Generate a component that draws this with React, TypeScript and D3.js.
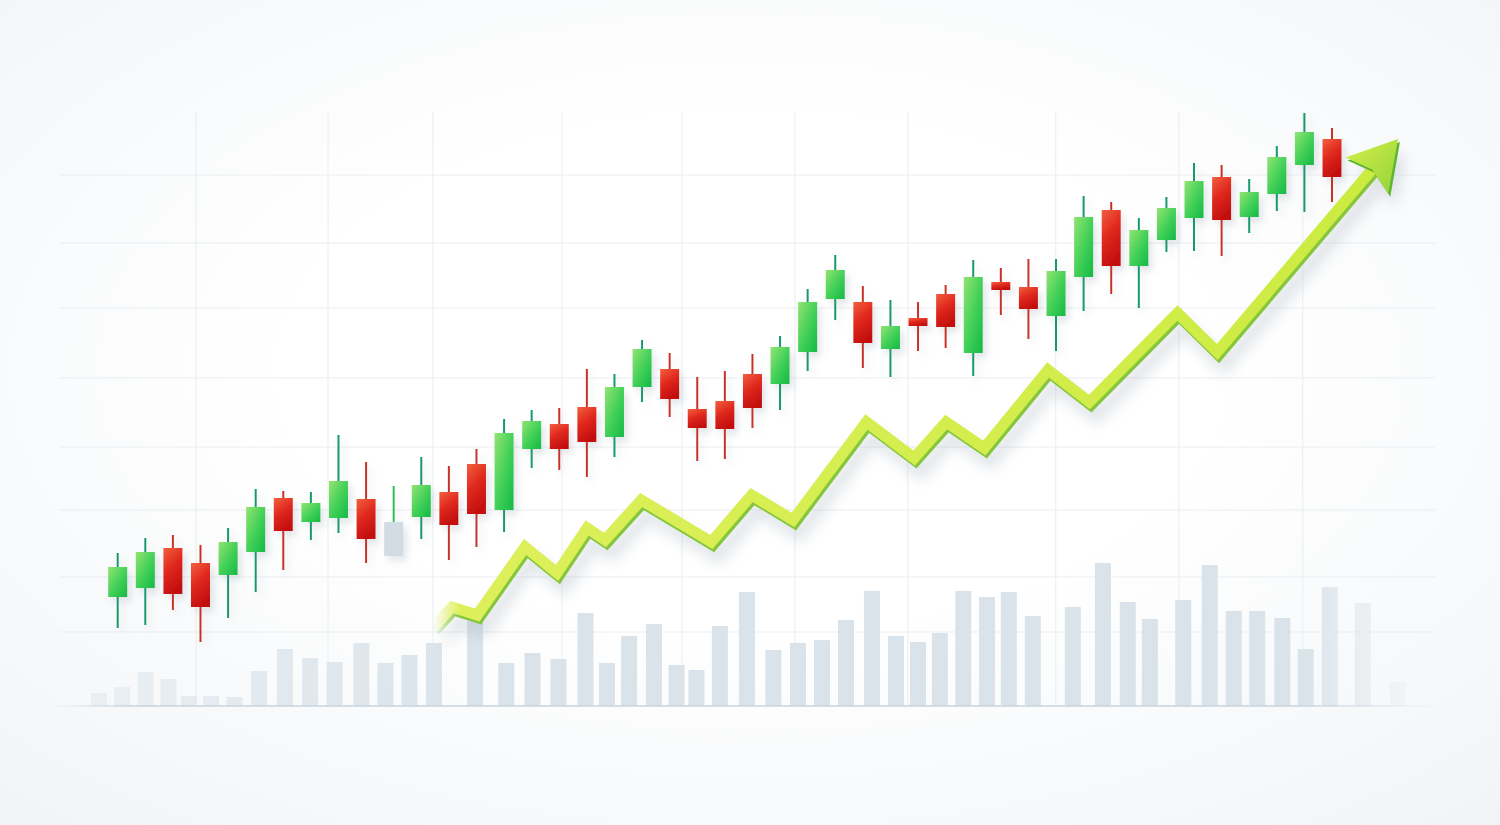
import React from "react";
import * as d3 from "d3";

const W = 1500;
const H = 825;

// Candles (price units), index 0..44
const OPEN = [103, 112, 152, 137, 125, 148, 202, 178, 182, 201, 178, 183, 208, 236, 190, 251, 276, 293, 263, 313, 331, 291, 299, 326, 316, 348, 401, 398, 351, 382, 406, 347, 418, 413, 384, 423, 490, 434, 460, 482, 523, 483, 506, 535, 561];
const CLOSE = [133, 148, 106, 93, 158, 193, 169, 197, 219, 161, 144, 215, 175, 186, 267, 279, 251, 258, 313, 351, 301, 272, 271, 292, 353, 398, 430, 357, 374, 374, 373, 423, 410, 391, 429, 483, 434, 470, 492, 519, 480, 508, 543, 568, 523];
const HIGH = [147, 162, 165, 155, 172, 211, 209, 208, 265, 238, 214, 243, 234, 251, 281, 290, 292, 331, 326, 360, 347, 323, 329, 346, 364, 411, 445, 414, 400, 398, 415, 440, 432, 441, 441, 504, 498, 482, 503, 537, 535, 521, 554, 587, 572];
const LOW = [72, 75, 90, 58, 82, 108, 130, 160, 167, 137, 144, 161, 140, 153, 168, 232, 230, 223, 243, 298, 283, 239, 241, 272, 290, 329, 380, 332, 323, 349, 352, 324, 385, 361, 349, 389, 406, 392, 448, 449, 444, 467, 489, 488, 498];
const GHOST = [10];

// Volume bars: session position and volume
const VOL_T = [-0.68, 0.16, 1.01, 1.84, 2.58, 3.38, 4.23, 5.12, 6.06, 6.97, 7.86, 8.83, 9.7, 10.57, 11.46, 12.95, 14.08, 15.03, 15.97, 16.95, 17.73, 18.53, 19.43, 20.25, 20.97, 21.82, 22.8, 23.76, 24.65, 25.52, 26.39, 27.33, 28.2, 29.0, 29.79, 30.64, 31.5, 32.29, 33.16, 34.61, 35.7, 36.6, 37.4, 38.61, 39.57, 40.44, 41.29, 42.2, 43.05, 43.92, 45.12, 46.39];
const VOL = [13, 19, 34, 27, 10, 10, 9, 35, 57, 48, 44, 63, 43, 51, 63, 90, 43, 53, 47, 93, 43, 70, 82, 41, 36, 80, 114, 56, 63, 66, 86, 115, 70, 64, 73, 115, 109, 114, 90, 99, 143, 104, 87, 106, 141, 95, 95, 88, 57, 119, 103, 24];

// Trend arrow
const TREND_T = [11.42, 12.11, 13.03, 14.76, 15.92, 17.01, 17.66, 18.97, 21.51, 22.97, 24.47, 27.13, 28.86, 30.02, 31.4, 33.71, 35.21, 38.4, 39.84, 46.39];
const TREND_P = [72, 93, 85, 153, 127, 172, 160, 200, 158, 205, 180, 278, 242, 278, 252, 330, 298, 387, 348, 561];

// Grid
const GRID_T = [2.84, 7.62, 11.42, 16.1, 20.45, 24.54, 28.63, 33.99, 38.45, 42.94];
const GRID_P = [68, 123, 190, 253, 322, 392, 457, 525];

export default function App() {
  const x = d3.scaleLinear().domain([0, 44]).range([117.7, 1332]);
  const y = d3.scaleLinear().domain([0, 600]).range([700, 100]);
  const yv = d3.scaleLinear().domain([0, 150]).range([706, 556]);

  const bodyW = 19;
  const volW = 16;

  const pts: [number, number][] = TREND_T.map((t, i) => [x(t), y(TREND_P[i])]);
  const tip = pts[pts.length - 1];
  const prev = pts[pts.length - 2];
  const dx = tip[0] - prev[0];
  const dy = tip[1] - prev[1];
  const len = Math.hypot(dx, dy);
  const ux = dx / len;
  const uy = dy / len;
  const nx = -uy;
  const ny = ux;
  const headLen = 48;
  const headHalf = 28;
  const bx = tip[0] - ux * headLen;
  const by = tip[1] - uy * headLen;
  const shaftPts: [number, number][] = pts.slice(0, -1).concat([[bx + ux * 8, by + uy * 8]]);
  const line = d3.line<[number, number]>().curve(d3.curveLinear);
  const shaftD = line(shaftPts) || "";
  const headPts: [number, number][] = [
    tip,
    [bx + nx * headHalf, by + ny * headHalf],
    [bx + ux * 8, by + uy * 8],
    [bx - nx * headHalf, by - ny * headHalf],
  ];
  const headD = (line(headPts) || "") + "Z";

  const fadeX0 = x(TREND_T[0]);
  const fadeX1 = x(TREND_T[1]) + 8;

  return (
    <svg width={W} height={H} style={{ position: "absolute", left: 0, top: 0 }}>
      <defs>
        <radialGradient id="bg" cx="50%" cy="45%" r="78%">
          <stop offset="0.4" stopColor="#ffffff" />
          <stop offset="1" stopColor="#f0f3f6" />
        </radialGradient>
        <linearGradient id="gGreen" x1="0" y1="0" x2="1" y2="1">
          <stop offset="0" stopColor="#93e472" />
          <stop offset="0.55" stopColor="#3fcf57" />
          <stop offset="1" stopColor="#15b945" />
        </linearGradient>
        <linearGradient id="gRed" x1="0" y1="0" x2="0.4" y2="1">
          <stop offset="0" stopColor="#f2603f" />
          <stop offset="0.5" stopColor="#e0291e" />
          <stop offset="1" stopColor="#c4100f" />
        </linearGradient>
        <linearGradient id="gVol" gradientUnits="userSpaceOnUse" x1="60" y1="0" x2="1440" y2="0">
          <stop offset="0" stopColor="#dfe6ec" stopOpacity="0.45" />
          <stop offset="0.15" stopColor="#dde5eb" stopOpacity="0.8" />
          <stop offset="0.3" stopColor="#dae3ea" stopOpacity="1" />
          <stop offset="0.9" stopColor="#dae3ea" stopOpacity="1" />
          <stop offset="0.955" stopColor="#e2e8ed" stopOpacity="0.5" />
          <stop offset="1" stopColor="#eef2f5" stopOpacity="0" />
        </linearGradient>
        <linearGradient id="gBase" gradientUnits="userSpaceOnUse" x1="50" y1="0" x2="1440" y2="0">
          <stop offset="0" stopColor="#c9d4dd" stopOpacity="0" />
          <stop offset="0.06" stopColor="#c9d4dd" stopOpacity="1" />
          <stop offset="0.9" stopColor="#c9d4dd" stopOpacity="1" />
          <stop offset="1" stopColor="#c9d4dd" stopOpacity="0" />
        </linearGradient>
        <linearGradient id="gLine" gradientUnits="userSpaceOnUse" x1="430" y1="640" x2="1400" y2="140">
          <stop offset="0" stopColor="#def05c" />
          <stop offset="1" stopColor="#cbeb40" />
        </linearGradient>
        <linearGradient id="gHead" x1="0" y1="0" x2="1" y2="1">
          <stop offset="0" stopColor="#d4ef48" />
          <stop offset="1" stopColor="#94d43b" />
        </linearGradient>
        <linearGradient id="fadeGrad" gradientUnits="userSpaceOnUse" x1={fadeX0} y1="0" x2={fadeX1} y2="0">
          <stop offset="0" stopColor="#000" />
          <stop offset="1" stopColor="#fff" />
        </linearGradient>
        <mask id="fadeMask" maskUnits="userSpaceOnUse" x="0" y="0" width={W} height={H}>
          <rect x="0" y="0" width={W} height={H} fill="url(#fadeGrad)" />
        </mask>
        <filter id="candleShadow" x="-50%" y="-20%" width="220%" height="150%">
          <feDropShadow dx="4" dy="5" stdDeviation="3.5" floodColor="#8a9aa8" floodOpacity="0.24" />
        </filter>
        <filter id="lineShadow" x="-10%" y="-10%" width="130%" height="140%">
          <feGaussianBlur stdDeviation="7" />
        </filter>
      </defs>

      <rect x={0} y={0} width={W} height={H} fill="url(#bg)" />

      {/* grid */}
      <g stroke="#e9edf1" strokeWidth={1}>
        {GRID_T.map((t, i) => (
          <line key={"gv" + i} x1={x(t)} x2={x(t)} y1={112} y2={yv(0)} />
        ))}
        {GRID_P.map((p, i) => (
          <line key={"gh" + i} x1={60} x2={1435} y1={y(p)} y2={y(p)} />
        ))}
      </g>

      {/* volume */}
      <g fill="url(#gVol)">
        {VOL.map((v, i) => (
          <rect key={"v" + i} x={x(VOL_T[i]) - volW / 2} y={yv(v)} width={volW} height={yv(0) - yv(v)} />
        ))}
      </g>
      <line x1={55} x2={1440} y1={yv(0)} y2={yv(0)} stroke="url(#gBase)" strokeWidth={1.5} />

      {/* trend line shadow */}
      <g mask="url(#fadeMask)">
        <g transform="translate(7,14)" filter="url(#lineShadow)" opacity={0.26}>
          <path d={shaftD} fill="none" stroke="#8797a6" strokeWidth={13} strokeLinejoin="miter" />
          <path d={headD} fill="#8797a6" />
        </g>
      </g>

      {/* candles */}
      <g filter="url(#candleShadow)">
        {OPEN.map((o, i) => {
          const c = CLOSE[i];
          const up = c >= o;
          const ghost = GHOST.includes(i);
          const cx = x(i);
          const top = y(Math.max(o, c));
          const bot = y(Math.min(o, c));
          const wickCol = ghost ? "#2fc05a" : up ? "#179a6a" : "#c83328";
          return (
            <g key={"c" + i}>
              <line x1={cx} x2={cx} y1={y(HIGH[i])} y2={y(LOW[i])} stroke={wickCol} strokeWidth={2} />
              <rect
                x={cx - bodyW / 2}
                y={top}
                width={bodyW}
                height={Math.max(2, bot - top)}
                fill={ghost ? "#d3dce2" : up ? "url(#gGreen)" : "url(#gRed)"}
              />
            </g>
          );
        })}
      </g>

      {/* trend line */}
      <g mask="url(#fadeMask)">
        <path
          d={shaftD}
          transform="translate(1.5,2.5)"
          fill="none"
          stroke="#86c63c"
          strokeWidth={12}
          strokeLinejoin="miter"
          strokeMiterlimit={6}
        />
        <path
          d={shaftD}
          fill="none"
          stroke="url(#gLine)"
          strokeWidth={11}
          strokeLinejoin="miter"
          strokeMiterlimit={6}
        />
        <path d={headD} transform="translate(2,3)" fill="#5db531" />
        <path d={headD} fill="url(#gHead)" />
      </g>
    </svg>
  );
}
